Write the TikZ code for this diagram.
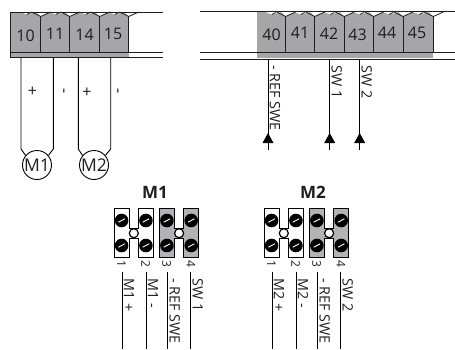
\documentclass[tikz,border=0pt]{standalone}
\usepackage{fontspec}
\setmainfont{Open Sans}
\definecolor{termgray}{RGB}{166,166,168}
\definecolor{ink}{RGB}{30,30,30}
\tikzset{
  wire/.style={line width=0.9pt,draw=black},
  rail/.style={line width=0.9pt,draw=ink},
  tnum/.style={font=\fontsize{16}{16}\selectfont,text=ink,inner sep=0pt},
  vlab/.style={font=\fontsize{14.3}{14.3}\selectfont,rotate=-90,anchor=west,inner sep=0pt,text=ink},
  pmlab/.style={font=\fontsize{16}{16}\selectfont,inner sep=0pt,text=ink},
  motor/.style={circle,draw=black,line width=0.9pt,minimum size=29pt,inner sep=0pt,fill=white,font=\fontsize{17.5}{17.5}\selectfont,text=ink},
  blocktitle/.style={font=\bfseries\fontsize{17}{17}\selectfont,inner sep=0pt,text=ink},
  pinnum/.style={font=\fontsize{12}{12}\selectfont,rotate=-90,inner sep=0pt,text=ink},
}
\newcommand{\myscrew}[2]{%
  \fill[black] (#1,#2) circle (6.8);
  \draw[white,line width=0.9pt] (#1-3.2,#2+1.7) -- (#1+3.2,#2-1.7);
}
\newcommand{\mypair}[2]{%
  \fill[#2] (#1,208.5) rectangle (#1+15.3,257.5);
  \fill[#2] (#1+24.3,208.5) rectangle (#1+39.6,257.5);
  \fill[#2] (#1+15,228.5) rectangle (#1+25,238);
  \draw[line width=1pt,black] (#1+15.3,228.5) -- (#1+15.3,208.5) -- (#1,208.5) -- (#1,257.5) -- (#1+15.3,257.5) -- (#1+15.3,238) -- (#1+24.3,238) -- (#1+24.3,257.5) -- (#1+39.6,257.5) -- (#1+39.6,208.5) -- (#1+24.3,208.5) -- (#1+24.3,228.5) -- cycle;
  \myscrew{#1+7.6}{220.5}\myscrew{#1+7.6}{245.5}
  \myscrew{#1+31.9}{220.5}\myscrew{#1+31.9}{245.5}
  \draw[line width=1.2pt,black,fill=white] (#1+19.8,233.2) circle (4.5);
}
\begin{document}
\begin{tikzpicture}[x=1pt,y=-1pt]
\useasboundingbox (0,0) rectangle (455,349);
% left terminal
\fill[termgray] (10.7,12) rectangle (128.7,58);
\foreach \a/\b in {10.7/40.7,40.7/69.7,69.7/99.7,99.7/128.7}{
  \fill[white] (\b-4.5,12) -- (\b,16.5) -- (\b+10,12) -- cycle;
  \fill[white] (\b-20,12) -- (\b-14,14.5) -- (\b-4.5,12) -- cycle;
  \draw[line width=0.8pt,ink] (\b-14,14.5) -- (\b-10,12.5);
  \draw[line width=0.8pt,ink] (\b-9,12) -- (\b,16.5) -- (\b+10,12);
  \draw[line width=0.8pt,ink] (\b,16) -- (\b,52);
}
\draw[rail] (10.7,52) -- (10.7,12) -- (163,12);
\draw[rail] (10.7,52) -- (163,52);
\draw[rail] (10.7,57.7) -- (163,57.7);
\draw[line width=0.8pt,ink] (10.7,52) -- (10.7,57.7);
\node[tnum] at (25.5,36) {10};
\node[tnum] at (55,34) {11};
\node[tnum] at (84.5,34.5) {14};
\node[tnum] at (113,34) {15};
% right terminal
\fill[termgray] (257.3,12) rectangle (433.3,58);
\foreach \a/\b in {257.3/285.7,285.7/314.7,314.7/344.3,344.3/373.7,373.7/403,403/433.3}{
  \fill[white] (\b-4.5,12) -- (\b,16.5) -- (\b+10,12) -- cycle;
  \fill[white] (\b-20,12) -- (\b-14,14.5) -- (\b-4.5,12) -- cycle;
  \draw[line width=0.8pt,ink] (\b-14,14.5) -- (\b-10,12.5);
  \draw[line width=0.8pt,ink] (\b-9,12) -- (\b,16.5) -- (\b+10,12);
  \draw[line width=0.8pt,ink] (\b,16) -- (\b,52.7);
}
\draw[rail] (200,11.7) -- (455,11.7);
\draw[rail] (200,52.7) -- (455,52.7);
\draw[rail] (200,59) -- (455,59);
\node[tnum] at (271.5,35) {40};
\node[tnum] at (300,33) {41};
\node[tnum] at (329,33.5) {42};
\node[tnum] at (357.5,35) {43};
\node[tnum] at (387,33) {44};
\node[tnum] at (417,33) {45};
% motors
\node[motor] (m1) at (37,165) {M1};
\node[motor] (m2) at (94,165) {M2};
\coordinate (a1) at (21,58); \coordinate (a2) at (53.3,58);
\coordinate (a3) at (78.3,58); \coordinate (a4) at (110.7,58);
\draw[wire] (a1) -- (21,149) -- (m1.140);
\draw[wire] (a2) -- (53.3,149) -- (m1.40);
\draw[wire] (a3) -- (78.3,149) -- (m2.140);
\draw[wire] (a4) -- (110.7,149) -- (m2.40);
\node[pmlab] at (32.5,91.5) {+};
\node[pmlab,rotate=-90] at (62,91) {-};
\node[pmlab] at (87,92.5) {+};
\node[pmlab,rotate=-90] at (116,91) {-};
% right wires
\foreach \n/\x/\t in {r1/268/{- REF SWE},r2/329.7/{SW 1},r3/359.7/{SW 2}}{
  \coordinate (\n a) at (\x,59);
  \coordinate (\n b) at (\x,150);
  \draw[wire] (\n a) -- (\n b);
  \fill[black] (\x,133) -- (\x+5.5,143) -- (\x-5.5,143) -- cycle;
  \node[vlab] at (\x+7,65) {\t};
}
% blocks
\node[blocktitle] at (155,192) {M1};
\node[blocktitle] at (313,192) {M2};
\foreach \o/\m/\s in {0/1/1,150/2/2}{
  \mypair{114+\o}{white}
  \mypair{159.3+\o}{termgray!85}
  \foreach \k/\x in {1/121.3,2/145.7,3/166.7,4/191}{
    \node[pinnum] at (\x+\o,264) {\k};
  }
  \foreach \i/\x/\t in {a/122/{M\m\ +},b/146/{M\m\ -},c/167.7/{- REF SWE},d/190.7/{SW \s}}{
    \coordinate (w\i) at (\x+\o,271.5);
    \coordinate (z\i) at (\x+\o,349);
    \draw[wire] (w\i) -- (z\i);
    \node[vlab] at (\x+\o+7,278) {\t};
  }
}
\end{tikzpicture}
\end{document}
